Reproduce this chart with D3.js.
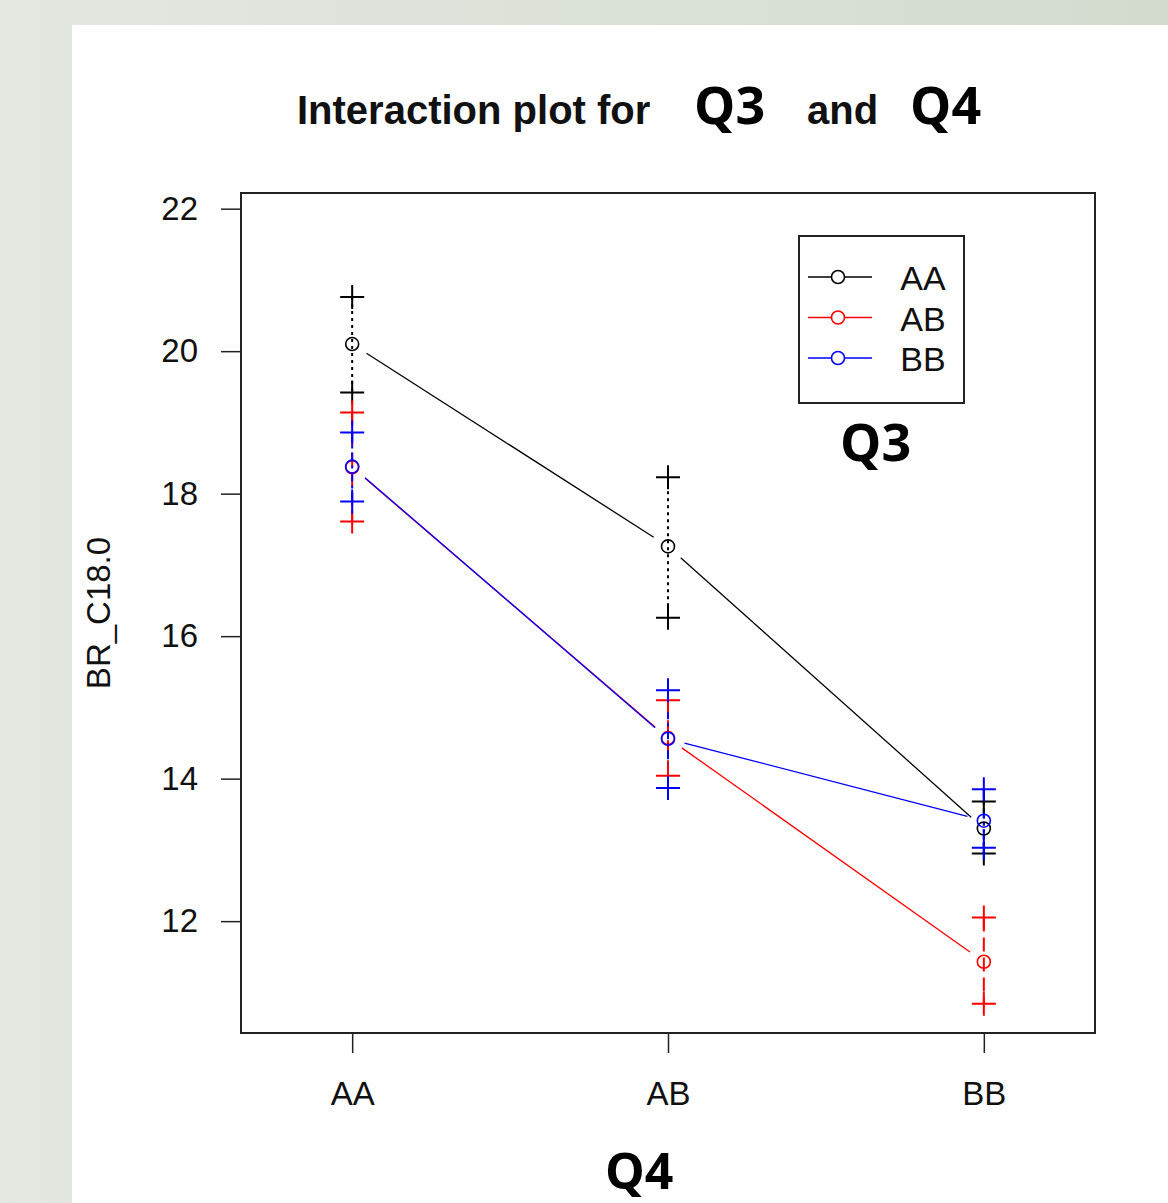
<!DOCTYPE html>
<html>
<head>
<meta charset="utf-8">
<script src="https://cdn.jsdelivr.net/npm/d3@7"></script>
<style>
  html, body { margin: 0; padding: 0; background: #dfe5dc; }
  svg { display: block; }
  .rtext { font-family: "Liberation Sans", Arial, sans-serif; fill: #111; }
  .over { font-family: "Open Sans", "Lato", sans-serif; font-weight: 700; fill: #000; }
</style>
</head>
<body>
<div id="chart"></div>
<script>
// factor levels
const q4Levels = ['AA', 'AB', 'BB']
const q3Levels = ['AA', 'AB', 'BB']
const q3Colors = ['#000000', '#ff0000', '#0000ff']

// means of BR_C18.0 per Q3 trace, over Q4 levels
const meanAA = [20.10, 17.26, 13.30]
const meanAB = [18.37, 14.57, 11.43]
const meanBB = [18.38, 14.56, 13.41]

// upper and lower marks (+) per trace
const upperAA = [20.76, 18.23, 13.68]
const lowerAA = [19.42, 16.26, 12.95]
const upperAB = [19.14, 15.10, 12.05]
const lowerAB = [17.61, 14.04, 10.84]
const upperBB = [18.86, 15.24, 13.85]
const lowerBB = [17.89, 13.87, 13.03]

const yTicks = [12, 14, 16, 18, 20, 22]

const traces = [
  {name: 'AA', mean: meanAA, upper: upperAA, lower: lowerAA, dash: '3,4'},
  {name: 'AB', mean: meanAB, upper: upperAB, lower: lowerAB, dash: '14,6'},
  {name: 'BB', mean: meanBB, upper: upperBB, lower: lowerBB, dash: '9,4,3,4'}
]

const width = 1168, height = 1203
const box = {left: 241, top: 193, right: 1095, bottom: 1033}

const svg = d3.select('#chart').append('svg')
  .attr('width', width)
  .attr('height', height)

// page background + white panel
const defs = svg.append('defs')
const grad = defs.append('linearGradient').attr('id', 'bg').attr('x1', 0).attr('x2', 1).attr('y1', 0).attr('y2', 0)
grad.append('stop').attr('offset', '0%').attr('stop-color', '#e3e8e0')
grad.append('stop').attr('offset', '100%').attr('stop-color', '#d3dbcf')
svg.append('rect').attr('width', width).attr('height', height).attr('fill', 'url(#bg)')
svg.append('rect').attr('x', 72).attr('y', 25).attr('width', width - 72).attr('height', height - 25).attr('fill', '#fff')

const color = d3.scaleOrdinal().domain(q3Levels).range(q3Colors)

const x = d3.scalePoint()
  .domain(q4Levels)
  .range([box.left, box.right])
  .padding(0.352)

const y = d3.scaleLinear()
  .domain([10.43, 22.22])
  .range([box.bottom, box.top])

// axes
let yaxis = svg.append('g')
  .attr('class', 'yaxis rtext')
  .attr('transform', `translate(${box.left},0)`)
  .call(d3.axisLeft(y).tickValues(yTicks).tickSize(20).tickPadding(23))
yaxis.select('.domain').remove()
yaxis.selectAll('line').attr('stroke', '#222').attr('stroke-width', 1.5)
yaxis.selectAll('text').attr('font-size', 33).attr('fill', '#111').attr('font-family', '"Liberation Sans", Arial, sans-serif')

let xaxis = svg.append('g')
  .attr('class', 'xaxis rtext')
  .attr('transform', `translate(0,${box.bottom})`)
  .call(d3.axisBottom(x).tickSize(20).tickPadding(29))
xaxis.select('.domain').remove()
xaxis.selectAll('line').attr('stroke', '#222').attr('stroke-width', 1.5)
xaxis.selectAll('text').attr('font-size', 33).attr('fill', '#111').attr('font-family', '"Liberation Sans", Arial, sans-serif')

// plot box
svg.append('rect')
  .attr('x', box.left).attr('y', box.top)
  .attr('width', box.right - box.left).attr('height', box.bottom - box.top)
  .attr('fill', 'none').attr('stroke', '#222').attr('stroke-width', 2)

let lines = svg.append('g')
let bars = svg.append('g')
let points = svg.append('g')

// connecting lines with gaps round the points (type = "b")
const gap = 17
traces.forEach(t => {
  for (let i = 0; i < q4Levels.length - 1; i++) {
    let x0 = x(q4Levels[i]), y0 = y(t.mean[i])
    let x1 = x(q4Levels[i + 1]), y1 = y(t.mean[i + 1])
    let len = Math.hypot(x1 - x0, y1 - y0)
    let ux = (x1 - x0) / len, uy = (y1 - y0) / len
    lines.append('line')
      .attr('x1', x0 + ux * gap).attr('y1', y0 + uy * gap)
      .attr('x2', x1 - ux * gap).attr('y2', y1 - uy * gap)
      .attr('stroke', color(t.name))
      .attr('stroke-width', 1.3)
  }
})

// vertical bars between the + marks
traces.forEach(t => {
  bars.selectAll(null)
    .data(q4Levels)
    .enter().append('line')
    .attr('x1', d => x(d)).attr('x2', d => x(d))
    .attr('y1', (d, i) => y(t.upper[i]))
    .attr('y2', (d, i) => y(t.lower[i]))
    .attr('stroke', color(t.name))
    .attr('stroke-width', 2)
    .attr('stroke-dasharray', t.dash)
})

// + marks and mean circles
const arm = 12
traces.forEach(t => {
  const c = color(t.name)
  q4Levels.forEach((lev, i) => {
    [t.upper[i], t.lower[i]].forEach(v => {
      points.append('path')
        .attr('d', `M${x(lev) - arm},${y(v)}H${x(lev) + arm}M${x(lev)},${y(v) - arm}V${y(v) + arm}`)
        .attr('stroke', c).attr('stroke-width', 2).attr('fill', 'none')
    })
    points.append('circle')
      .attr('cx', x(lev)).attr('cy', y(t.mean[i]))
      .attr('r', 6.5)
      .attr('fill', 'none').attr('stroke', c).attr('stroke-width', 1.6)
  })
})

// legend
const leg = svg.append('g')
leg.append('rect')
  .attr('x', 799).attr('y', 236).attr('width', 165).attr('height', 167)
  .attr('fill', '#fff').attr('stroke', '#222').attr('stroke-width', 2)
q3Levels.forEach((lev, i) => {
  const ly = 277 + i * 40.5
  leg.append('line').attr('x1', 808).attr('x2', 872).attr('y1', ly).attr('y2', ly)
    .attr('stroke', color(lev)).attr('stroke-width', 1.5)
  leg.append('circle').attr('cx', 838).attr('cy', ly).attr('r', 6.5)
    .attr('fill', '#fff').attr('stroke', color(lev)).attr('stroke-width', 1.6)
  leg.append('text').attr('class', 'rtext')
    .attr('x', 923).attr('y', ly + 13)
    .attr('text-anchor', 'middle')
    .attr('font-size', 34)
    .text(lev)
})

// titles
svg.append('text').attr('class', 'rtext')
  .attr('x', 297).attr('y', 124)
  .attr('font-size', 40).attr('font-weight', 700)
  .text('Interaction plot for')
svg.append('text').attr('class', 'rtext')
  .attr('x', 807).attr('y', 124)
  .attr('font-size', 40).attr('font-weight', 700)
  .text('and')
svg.append('text').attr('class', 'over')
  .attr('x', 694).attr('y', 124).attr('font-size', 52)
  .text('Q3')
svg.append('text').attr('class', 'over')
  .attr('x', 910).attr('y', 124).attr('font-size', 52)
  .text('Q4')
svg.append('text').attr('class', 'over')
  .attr('x', 840).attr('y', 461).attr('font-size', 52)
  .text('Q3')
svg.append('text').attr('class', 'over')
  .attr('x', 605).attr('y', 1189).attr('font-size', 50)
  .text('Q4')

// y label
svg.append('text').attr('class', 'rtext')
  .attr('transform', 'translate(110,613) rotate(-90)')
  .attr('text-anchor', 'middle')
  .attr('font-size', 33)
  .text('BR_C18.0')
</script>
</body>
</html>
